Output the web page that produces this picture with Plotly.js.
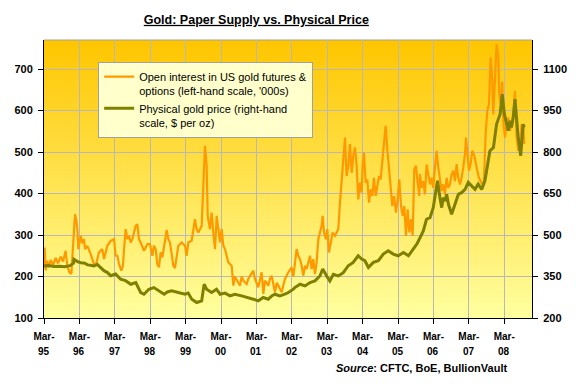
<!DOCTYPE html>
<html><head><meta charset="utf-8">
<script src="https://cdn.plot.ly/plotly-3.0.1.min.js"></script>
<style>html,body{margin:0;padding:0;background:#fff}#chart{width:576px;height:390px}</style>
</head><body><div id="chart"></div>
<script>
// ---- data ----
const tickMonth = 'Mar-';
const tickYears = ['95','96','97','98','99','00','01','02','03','04','05','06','07','08'];

// Open interest in US gold futures & options ('000s), time in decimal years
const oiYear = [1995.167,1995.186,1995.214,1995.261,1995.308,1995.355,1995.43,1995.497,1995.563,1995.638,1995.704,1995.779,1995.826,1995.883,1995.939,1995.986,
1996.043,1996.08,1996.109,1996.137,1996.203,1996.25,1996.297,1996.325,1996.391,1996.485,1996.58,1996.626,1996.674,1996.72,1996.815,1996.862,1996.956,
1997.05,1997.144,1997.191,1997.238,1997.286,1997.351,1997.398,1997.427,1997.474,1997.521,1997.568,1997.615,1997.662,1997.709,1997.756,1997.803,1997.85,1997.898,1997.992,
1998.086,1998.161,1998.227,1998.274,1998.321,1998.368,1998.415,1998.462,1998.51,1998.557,1998.604,1998.632,1998.678,1998.725,1998.78,1998.82,1998.866,1998.96,
1999.055,1999.149,1999.196,1999.243,1999.337,1999.431,1999.479,1999.526,1999.62,1999.667,1999.714,1999.761,1999.79,1999.855,1999.902,1999.949,1999.997,
2000.044,2000.091,2000.138,2000.185,2000.232,2000.279,2000.326,2000.373,2000.467,2000.514,2000.56,2000.608,2000.655,2000.703,2000.75,2000.797,2000.891,2000.94,2000.985,
2001.079,2001.126,2001.22,2001.315,2001.362,2001.409,2001.503,2001.55,2001.597,2001.691,2001.74,2001.786,2001.88,2001.93,2001.974,
2002.068,2002.162,2002.21,2002.255,2002.302,2002.349,2002.396,2002.444,2002.491,2002.538,2002.585,2002.632,2002.679,2002.726,2002.773,2002.82,2002.867,2002.914,2002.961,
2003.009,2003.037,2003.075,2003.131,2003.169,2003.216,2003.263,2003.319,2003.385,2003.479,2003.526,2003.574,2003.621,2003.668,2003.715,2003.762,2003.809,2003.856,2003.903,2003.95,2003.997,
2004.044,2004.091,2004.138,2004.167,2004.204,2004.251,2004.299,2004.346,2004.393,2004.44,2004.487,2004.534,2004.581,2004.628,2004.675,2004.722,2004.769,2004.816,2004.863,2004.91,2004.958,
2005.005,2005.052,2005.108,2005.155,2005.202,2005.25,2005.297,2005.344,2005.391,2005.438,2005.485,2005.532,2005.579,2005.626,2005.673,2005.72,2005.767,2005.785,2005.832,2005.879,2005.926,2005.974,
2006.021,2006.068,2006.115,2006.162,2006.209,2006.256,2006.303,2006.35,2006.397,2006.444,2006.491,2006.539,2006.586,2006.633,2006.68,2006.727,2006.774,2006.821,2006.868,2006.915,2006.962,
2007.009,2007.057,2007.085,2007.122,2007.17,2007.216,2007.264,2007.311,2007.358,2007.405,2007.452,2007.499,2007.546,2007.593,2007.64,2007.687,2007.734,2007.781,2007.828,2007.857,2007.904,2007.951,2007.998,
2008.026,2008.064,2008.111,2008.139,2008.186,2008.233,2008.28,2008.327,2008.375,2008.422,2008.469,2008.516,2008.563,2008.61,2008.657,2008.704,2008.732];
const oiValue = [228,270,215,238,222,240,228,245,232,248,236,262,225,210,206,270,
350,335,314,266,298,280,290,266,274,254,230,226,242,258,266,242,274,
286,290,250,250,230,214,226,266,314,290,298,282,290,306,322,326,290,282,262,
278,278,250,274,266,230,222,258,246,270,300,312,290,282,250,226,220,274,
282,274,250,282,286,338,314,306,322,418,515,467,346,314,354,306,266,
346,306,282,314,274,266,250,234,226,178,200,194,185,178,200,190,182,195,202,
214,194,174,210,158,190,178,195,202,162,185,178,162,180,194,
210,222,200,234,266,250,242,226,202,226,218,234,250,218,242,206,234,290,306,
322,346,306,290,314,258,282,306,298,314,378,426,483,535,442,467,519,450,491,511,467,
386,426,402,467,499,426,434,378,410,394,438,394,418,442,434,475,511,563,507,467,426,
370,394,354,386,434,370,346,370,298,362,306,338,298,459,467,426,394,447,414,430,398,470,
446,422,438,414,463,503,463,438,406,422,398,438,414,422,446,455,430,471,438,422,438,
463,495,535,503,455,471,503,495,471,455,438,430,422,430,543,599,615,728,672,591,663,760,728,
639,615,670,575,535,567,583,551,567,591,647,535,503,519,567,559,519];

// Physical gold price ($ per oz), time in decimal years
const goldYear = [1995.167,1995.3,1995.45,1995.6,1995.75,1995.9,1996.0,1996.014,1996.1,1996.2,1996.3,1996.4,1996.48,1996.58,1996.67,1996.8,1996.86,1996.95,
1997.05,1997.19,1997.33,1997.47,1997.62,1997.76,1997.9,1997.99,1998.13,1998.27,1998.42,1998.56,1998.65,1998.77,1998.96,
1999.15,1999.24,1999.34,1999.48,1999.62,1999.69,1999.76,1999.9,2000.04,2000.14,2000.28,2000.42,2000.56,2000.75,2000.94,
2001.08,2001.22,2001.36,2001.5,2001.6,2001.69,2001.83,2001.97,2002.07,2002.21,2002.25,2002.4,2002.54,2002.68,2002.82,2002.96,
2003.04,2003.15,2003.24,2003.34,2003.48,2003.62,2003.76,2003.9,2004.04,2004.14,2004.23,2004.33,2004.47,2004.61,2004.75,2004.89,
2005.03,2005.17,2005.32,2005.46,2005.6,2005.7,2005.79,2005.88,2005.97,2006.07,2006.16,2006.26,2006.28,2006.35,2006.4,2006.44,2006.49,2006.54,2006.59,2006.68,2006.77,2006.87,2006.96,
2007.06,2007.15,2007.24,2007.34,2007.43,2007.53,2007.62,2007.67,2007.76,2007.86,2007.95,2008.05,2008.11,2008.17,2008.23,2008.28,2008.33,2008.37,2008.42,2008.47,2008.52,2008.56,2008.63,2008.68,2008.7,2008.73];
const goldPrice = [388,390,386,387,385,389,398,412,405,400,399,392,391,388,394,378,371,365,
353,359,340,335,322,328,292,286,304,310,298,286,294,298,292,
286,290,268,256,262,322,304,292,304,286,290,280,286,280,274,
268,262,274,268,280,286,280,286,292,304,310,322,316,328,334,352,
377,352,334,358,352,364,389,401,425,413,407,383,401,407,431,443,
431,425,437,425,449,468,491,515,557,563,599,684,696,635,599,635,623,647,611,575,611,647,653,
665,690,678,665,684,665,696,732,804,816,901,937,1009,937,907,877,913,889,925,991,913,853,786,853,901,889];

// ---- styling ----
const FONT = '"Liberation Sans", Arial, sans-serif';
const xStart = 1995.167, xEnd = 2008.95;
const tickPos = tickYears.map((_, i) => xStart + i);

// vertical gradient background for the plot area
const shapes = [];
const N = 70;
for (let i = 0; i < N; i++) {
  const f = i / (N - 1);
  const g = Math.round(198 + 57 * f), b = Math.round(0 + 158 * f);
  shapes.push({type: 'rect', xref: 'paper', yref: 'paper', x0: 0, x1: 1,
    y0: Math.max(0, 1 - (i + 1) / N - 0.003), y1: 1 - i / N,
    fillcolor: `rgb(255,${g},${b})`, line: {width: 0}, layer: 'below'});
}
shapes.push({type: 'line', xref: 'paper', yref: 'paper', x0: 0, x1: 1, y0: 1, y1: 1,
  line: {color: '#A0A0A0', width: 1}, layer: 'below'});

const tickFont = {family: FONT, size: 11, color: '#000', weight: 'bold'};
const xFont = {family: FONT, size: 10, color: '#000', weight: 'bold'};
const GRID = '#B8B8B8';

const traces = [
  {x: oiYear, y: oiValue, type: 'scatter', mode: 'lines',
   name: "Open interest in US gold futures &<br>options (left-hand scale, '000s)",
   line: {color: '#FF9900', width: 2.2}, xaxis: 'x', yaxis: 'y'},
  {x: goldYear, y: goldPrice, type: 'scatter', mode: 'lines',
   name: 'Physical gold price (right-hand<br>scale, $ per oz)',
   line: {color: '#7F7F00', width: 3}, xaxis: 'x', yaxis: 'y2'}
];

// second row of the date labels (year), placed at the same tick positions
const yearAnnotations = tickYears.map((yy, i) => ({
  text: '<b>' + yy + '</b>', xref: 'x', yref: 'paper', x: tickPos[i], y: -0.122,
  xanchor: 'center', yanchor: 'middle', showarrow: false, font: xFont}));

const layout = {
  width: 576, height: 390,
  margin: {l: 44, r: 44, t: 40, b: 72, pad: 0},
  paper_bgcolor: '#FFFFFF', plot_bgcolor: 'rgba(0,0,0,0)',
  font: {family: FONT, color: '#000'},
  title: {text: '<b><u>Gold: Paper Supply vs. Physical Price</u></b>',
    font: {family: FONT, size: 12.5, color: '#000'},
    x: 0.445, xref: 'container', xanchor: 'center', y: 0.95, yref: 'container', yanchor: 'middle'},
  showlegend: true,
  legend: {x: 0.111, y: 0.921, xanchor: 'left', yanchor: 'top', bgcolor: '#FFFFCC',
    bordercolor: '#A0A0A0', borderwidth: 1, font: {family: FONT, size: 11, color: '#000'},
    valign: 'top', itemwidth: 30, tracegroupgap: 0},
  xaxis: {range: [xStart, xEnd], tickmode: 'array', tickvals: tickPos,
    ticktext: tickPos.map(() => tickMonth), ticks: 'outside', ticklen: 5, tickcolor: '#000',
    showline: true, linecolor: '#000', linewidth: 1, showgrid: true, gridcolor: GRID, gridwidth: 1,
    zeroline: false, tickfont: xFont, ticklabelstandoff: 4},
  yaxis: {range: [100, 770], tick0: 100, dtick: 100, ticks: 'outside', ticklen: 5, tickcolor: '#000',
    showline: true, linecolor: '#000', linewidth: 1, showgrid: true, gridcolor: GRID, gridwidth: 1,
    zeroline: false, tickfont: tickFont, ticklabelstandoff: 3},
  yaxis2: {overlaying: 'y', side: 'right', range: [200, 1205], tick0: 200, dtick: 150,
    ticks: 'outside', ticklen: 5, tickcolor: '#000', showline: true, linecolor: '#000', linewidth: 1,
    showgrid: false, zeroline: false, tickfont: tickFont, ticklabelstandoff: 3},
  shapes: shapes,
  annotations: yearAnnotations.concat([{text: '<b><i>Source</i>: CFTC, BoE, BullionVault</b>',
    xref: 'paper', yref: 'paper', x: 0.953, y: -0.18, xanchor: 'right', yanchor: 'middle',
    showarrow: false, font: {family: FONT, size: 11, color: '#000'}}])
};

Plotly.newPlot('chart', traces, layout, {staticPlot: true, displayModeBar: false});
</script></body></html>
